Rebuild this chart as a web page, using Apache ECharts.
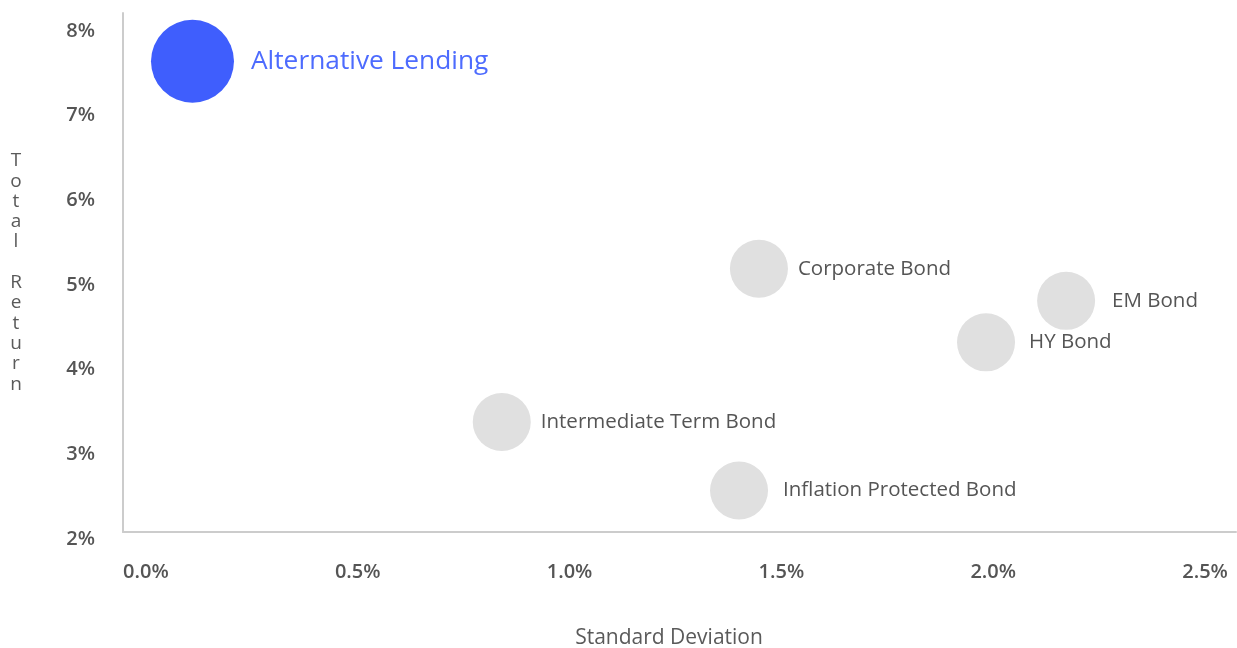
<!DOCTYPE html>
<html>
<head>
    <meta charset="utf-8">
    <title>Risk / Return</title>
    <script src="https://cdn.jsdelivr.net/npm/echarts@6/dist/echarts.min.js"></script>
    <style>
        html, body { margin: 0; padding: 0; background: #fff; }
    </style>
</head>
<body>
    <div id="main" style="width: 1237px;height:648px;"></div>
    <script type="text/javascript">
        // 数据
        var assetNames = ['Alternative Lending', 'Intermediate Term Bond', 'Inflation Protected Bond',
                          'Corporate Bond', 'HY Bond', 'EM Bond'];
        var stdDev = [0.11, 0.84, 1.40, 1.447, 1.983, 2.172];
        var totalReturn = [7.56, 3.30, 2.49, 5.11, 4.24, 4.73];
        var highlight = 'Alternative Lending';

        // 标签与气泡的间距
        var labelGap = {
            'Alternative Lending': 17, 'Intermediate Term Bond': 10, 'Inflation Protected Bond': 15,
            'Corporate Bond': 10, 'HY Bond': 14, 'EM Bond': 17
        };

        var font = '"Open Sans", Lato, sans-serif';
        var blue = '#3f5efd';
        var grey = '#e0e0e0';

        var points = assetNames.map(function (name, i) {
            var hi = name === highlight;
            var lbl = { distance: labelGap[name] };
            if (hi) { lbl.color = '#4d6bfe'; lbl.fontSize = 26.3; }
            return {
                name: name,
                value: [stdDev[i], totalReturn[i]],
                symbolSize: hi ? 83 : 58,
                itemStyle: { color: hi ? blue : grey, opacity: 1 },
                label: lbl
            };
        });

        // 只显示整数刻度
        function onStep(v, step) {
            var k = v / step;
            return Math.abs(k - Math.round(k)) < 1e-6;
        }

        var myChart = echarts.init(document.getElementById('main'));
        var option = {
            animation: false,
            grid: { left: 123, right: 1, top: 13, bottom: 116, containLabel: false, outerBoundsMode: 'none' },
            xAxis: {
                type: 'value',
                min: -0.054,
                max: 2.573,
                minInterval: 0.5,
                maxInterval: 0.5,
                name: 'Standard Deviation',
                nameLocation: 'middle',
                nameGap: 96,
                nameTextStyle: { color: '#5a5a5a', fontSize: 21, fontFamily: font, padding: [0, 21, 0, 0] },
                axisLine: { show: true, onZero: false, lineStyle: { color: '#cccccc', width: 2 } },
                axisTick: { show: false },
                splitLine: { show: false },
                axisLabel: {
                    margin: 30,
                    color: '#555555',
                    fontSize: 20,
                    fontWeight: 600,
                    fontFamily: font,
                    formatter: function (v) {
                        return onStep(v, 0.5) ? v.toFixed(1) + '%' : '';
                    }
                }
            },
            yAxis: {
                type: 'value',
                min: 2,
                max: 8.13,
                interval: 1,
                name: 'Total Return'.split('').join('\n'),
                nameLocation: 'middle',
                nameRotate: 0,
                nameGap: 107,
                nameTextStyle: { color: '#5a5a5a', fontSize: 19, lineHeight: 20.3, fontFamily: font, align: 'center' },
                axisLine: { show: true, onZero: false, lineStyle: { color: '#cccccc', width: 2 } },
                axisTick: { show: false },
                splitLine: { show: false },
                axisLabel: {
                    margin: 28,
                    verticalAlign: 'top',
                    lineHeight: 14,
                    color: '#555555',
                    fontSize: 20,
                    fontWeight: 600,
                    fontFamily: font,
                    formatter: function (v) {
                        return onStep(v, 1) ? Math.round(v) + '%' : '';
                    }
                }
            },
            series: [{
                type: 'scatter',
                data: points,
                label: {
                    show: true,
                    position: 'right',
                    distance: 10,
                    color: '#555555',
                    fontSize: 20.5,
                    fontFamily: font,
                    formatter: function (p) { return p.name; }
                }
            }]
        };
        myChart.setOption(option);
    </script>
</body>
</html>
